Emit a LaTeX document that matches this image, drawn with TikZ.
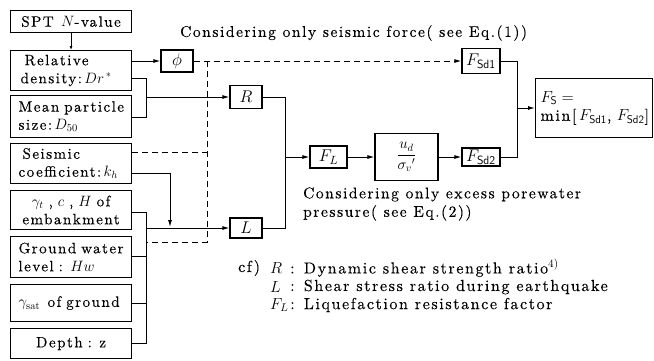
\RequirePackage{fix-cm}
\documentclass[tikz,border=0pt]{standalone}
\usepackage{fontspec}
\setmainfont{lmroman10}[Extension=.otf, UprightFont=*-regular, ItalicFont=*-italic, BoldFont=*-bold]
\newfontfamily\lspfam{lmroman10}[Extension=.otf, UprightFont=*-regular, ItalicFont=*-italic, BoldFont=*-bold, LetterSpace=10, FakeBold=0.25]
\usetikzlibrary{arrows.meta}
\newcommand\dtxt{\lspfam\fontsize{15}{18}\selectfont}
\newcommand\ftxt{\lspfam\fontsize{15.5}{18.5}\selectfont}
\newcommand\gtxt{\lspfam\fontsize{16}{18.5}\selectfont}
\newcommand\mtxt{\lspfam\fontsize{17}{19}\selectfont}
\begin{document}
\begin{tikzpicture}[x=1pt,y=-1pt,
  every node/.style={font=\dtxt},
  lbox/.style={draw, line width=1.1pt, anchor=north west, inner xsep=8pt, inner ysep=0pt, text width=105pt, align=left},
  sbox/.style={draw, line width=1.1pt, inner sep=0pt, align=center, font=\mtxt},
  ln/.style={line width=1pt},
  arr/.style={ln, -{Latex[length=7pt,width=4pt]}},
  sarr/.style={ln, -{Latex[length=4pt,width=3pt]}},
  dsh/.style={ln, dash pattern=on 6pt off 4pt},
  plain/.style={inner sep=0pt, anchor=west, align=left, font=\ftxt},
]
\fill[white] (0,0) rectangle (654,360);
\useasboundingbox (0,0) rectangle (654,360);

% left column
\node[lbox, minimum height=22pt, align=center] (spt) at (10,10) {\mbox{SPT\, $N$-value}};
\node[lbox, minimum height=40pt] (rel) at (10,50) {\mbox{\hspace*{6pt}Relative}\\\mbox{\hspace*{2pt}density:\,$Dr^{\,*}$}};
\node[lbox, minimum height=42pt] (mean) at (10,95) {\mbox{Mean particle}\\\mbox{size:\,$D_{50}$}};
\node[lbox, minimum height=40pt] (seis) at (10,143) {\mbox{\hspace*{4pt}Seismic}\\\mbox{coefficient:\,$k_h$}};
\node[lbox, minimum height=39pt, align=center] (gam) at (10,190) {\mbox{$\gamma_t$ , $c$ , $H$ of}\\embankment};
\node[lbox, minimum height=41pt] (gw) at (10,236) {\mbox{Ground water}\\\mbox{level : $Hw$}};
\node[lbox, minimum height=37pt] (gsat) at (10,284) {\mbox{$\gamma_{\mathrm{sat}}$\, of ground}};
\node[lbox, minimum height=30pt, align=center] (depth) at (10,328) {\mbox{Depth : z}};

% right nodes
\node[sbox, minimum width=32pt, minimum height=22pt] (phi) at (177,61) {$\phi$};
\node[sbox, minimum width=32pt, minimum height=23pt] (R) at (246,97) {$R$};
\node[sbox, minimum width=32pt, minimum height=20pt] (L) at (246,228) {$L$};
\node[sbox, minimum width=37pt, minimum height=22pt] (FL) at (328.5,157) {$F_L$};
\node[sbox, minimum width=63pt, minimum height=47pt, font=\dtxt] (ud) at (406.5,157) {$\displaystyle\frac{u_d}{\sigma_v{}'}$};
\node[sbox, minimum width=38pt, minimum height=25pt] (Fsd1) at (481,61) {$F_{\mathsf{Sd1}}$};
\node[sbox, minimum width=38pt, minimum height=18pt] (Fsd2) at (481,157) {$F_{\mathsf{Sd2}}$};
\node[draw, line width=1.1pt, anchor=north west, minimum width=117pt, minimum height=59pt, inner xsep=5pt, inner ysep=0pt, text width=107pt, align=left, font=\gtxt] (Fs) at (535,78) {$F_{\mathsf{S}}=$\\\mbox{min[\,$F_{\mathsf{Sd1}}$, $F_{\mathsf{Sd2}}$]}};

% texts
\node[plain] (t1) at (180,33) {Considering only seismic force( see Eq.(1))};
\node[plain] (t2) at (303,204) {Considering only excess porewater\\pressure( see Eq.(2))};
\node[plain, font=\gtxt] (cf) at (238,268) {cf)};
\node[plain, font=\gtxt] (sR) at (270,268) {$R$};
\node[plain, font=\gtxt] (sL) at (270,287) {$L$};
\node[plain, font=\gtxt] (sF) at (270,305) {$F_L$};
\node[plain, font=\gtxt] (dR) at (290,268) {: Dynamic shear strength ratio$^{4)}$};
\node[plain, font=\gtxt] (dL) at (290,287) {: Shear stress ratio during earthquake};
\node[plain, font=\gtxt] (dF) at (290,305) {: Liquefaction resistance factor};

% coordinates
\coordinate (j1) at (146,97);
\coordinate (j2) at (146,228);
\coordinate (dtop) at (207,61);
\coordinate (dbot) at (207,242);
\coordinate (j3) at (146,242);
\coordinate (jR) at (285,157);
\coordinate (jF) at (517,108);

% connectors
\draw[sarr] (spt) -- (rel);
\draw[arr] (rel.east |- phi.west) -- (phi.west);
\draw[ln] (rel.east |- 0,78) -- (146,78) -- (146,117) -- (mean.east |- 0,117);
\draw[arr] (j1) -- (R.west);
\draw[dsh,arr] (phi.east) -- (Fsd1.west);
\draw[dsh] (dtop) -- (dbot) -- (j3);
\draw[dsh] (seis.east |- 0,152) -- (dtop |- 0,152);
\draw[arr] (seis.east |- 0,173) -- (170,173) -- (170,227);
\draw[ln] (gam.east |- 0,212) -- (146,212) -- (146,343) -- (depth.east |- 0,343);
\draw[ln] (gw.east |- 0,256) -- (146,256);
\draw[ln] (gsat.east |- 0,303) -- (146,303);
\draw[arr] (j2) -- (L.west);
\draw[ln] (R.east) -| (jR);
\draw[ln] (L.east) -| (jR);
\draw[arr] (jR) -- (FL.west);
\draw[arr] (FL) -- (ud);
\draw[arr] (ud) -- (Fsd2);
\draw[ln] (Fsd1.east) -| (jF);
\draw[ln] (Fsd2.east) -| (jF);
\draw[arr] (jF) -- (Fs.west |- jF);
\end{tikzpicture}
\end{document}
